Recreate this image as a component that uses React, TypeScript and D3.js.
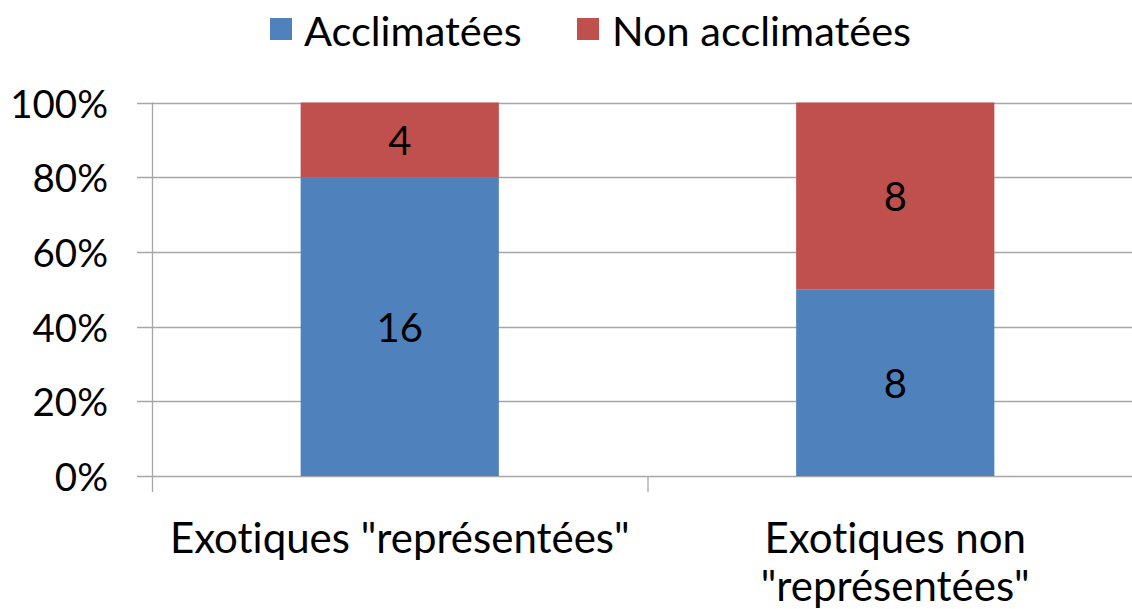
import React from "react";
import * as d3 from "d3";

const categories = [["Exotiques \"représentées\""], ["Exotiques non", "\"représentées\""]];
const categoryKeys = ["rep", "nonrep"];
const acclimatees = [16, 8];
const nonAcclimatees = [4, 8];
const seriesNames = ["Acclimatées", "Non acclimatées"];
const seriesColors = ["#4F81BD", "#C0504D"];
const yTicks = [0, 0.2, 0.4, 0.6, 0.8, 1];

const W = 1132;
const H = 609;
const FONT = "Lato, 'Open Sans', sans-serif";

export default function App() {
  const left = 152;
  const right = 1143;
  const top = 102.5;
  const bottom = 476;
  const x = d3.scaleBand<string>().domain(categoryKeys).range([left, right]).paddingInner(0).paddingOuter(0);
  const y = d3.scaleLinear().domain([0, 1]).range([bottom, top]);
  const barW = x.bandwidth() * 0.4;
  const fmt = d3.format(".0%");

  const rows = categoryKeys.map((k, i) => {
    const total = acclimatees[i] + nonAcclimatees[i];
    return { k, a: acclimatees[i], n: nonAcclimatees[i], pa: acclimatees[i] / total };
  });

  return (
    <svg width={W} height={H} style={{ position: "absolute", left: 0, top: 0, background: "#fff", fontVariantLigatures: "none" }} fontFamily={FONT}>
      {yTicks.map((t) => (
        <line key={t} x1={137} x2={W} y1={Math.round(y(t)) + 0.5} y2={Math.round(y(t)) + 0.5} stroke="#A6A6A6" strokeWidth={1.3} />
      ))}
      <line x1={left + 0.5} x2={left + 0.5} y1={top} y2={bottom + 16} stroke="#A6A6A6" strokeWidth={1.3} />
      {categoryKeys.slice(1).map((k) => (
        <line key={k} x1={(x(k) as number) + 0.5} x2={(x(k) as number) + 0.5} y1={bottom} y2={bottom + 16} stroke="#A6A6A6" strokeWidth={1.3} />
      ))}
      {yTicks.map((t) => (
        <text key={t} x={108} y={y(t)} textAnchor="end" dominantBaseline="central" fontSize={38.5} fill="#000">
          {fmt(t)}
        </text>
      ))}
      {rows.map((r) => {
        const cx = (x(r.k) as number) + x.bandwidth() / 2;
        const yA = y(r.pa);
        return (
          <g key={r.k}>
            <rect x={cx - barW / 2} y={yA} width={barW} height={bottom - yA} fill={seriesColors[0]} />
            <rect x={cx - barW / 2} y={top} width={barW} height={yA - top} fill={seriesColors[1]} />
            <text x={cx} y={(yA + bottom) / 2} textAnchor="middle" dominantBaseline="central" fontSize={40} fill="#000">
              {r.a}
            </text>
            <text x={cx} y={(yA + top) / 2} textAnchor="middle" dominantBaseline="central" fontSize={40} fill="#000">
              {r.n}
            </text>
          </g>
        );
      })}
      {categories.map((lines, i) => {
        const cx = (x(categoryKeys[i]) as number) + x.bandwidth() / 2;
        return lines.map((ln, j) => (
          <text key={i + "-" + j} x={cx} y={537 + j * 48} textAnchor="middle" dominantBaseline="central" fontSize={42} fill="#000">
            {ln}
          </text>
        ));
      })}
      <rect x={270} y={18} width={22} height={22} fill={seriesColors[0]} />
      <text x={304} y={30} dominantBaseline="central" fontSize={41.5} fill="#000">{seriesNames[0]}</text>
      <rect x={577} y={18} width={22} height={22} fill={seriesColors[1]} />
      <text x={612} y={30} dominantBaseline="central" fontSize={41.5} fill="#000">{seriesNames[1]}</text>
    </svg>
  );
}
